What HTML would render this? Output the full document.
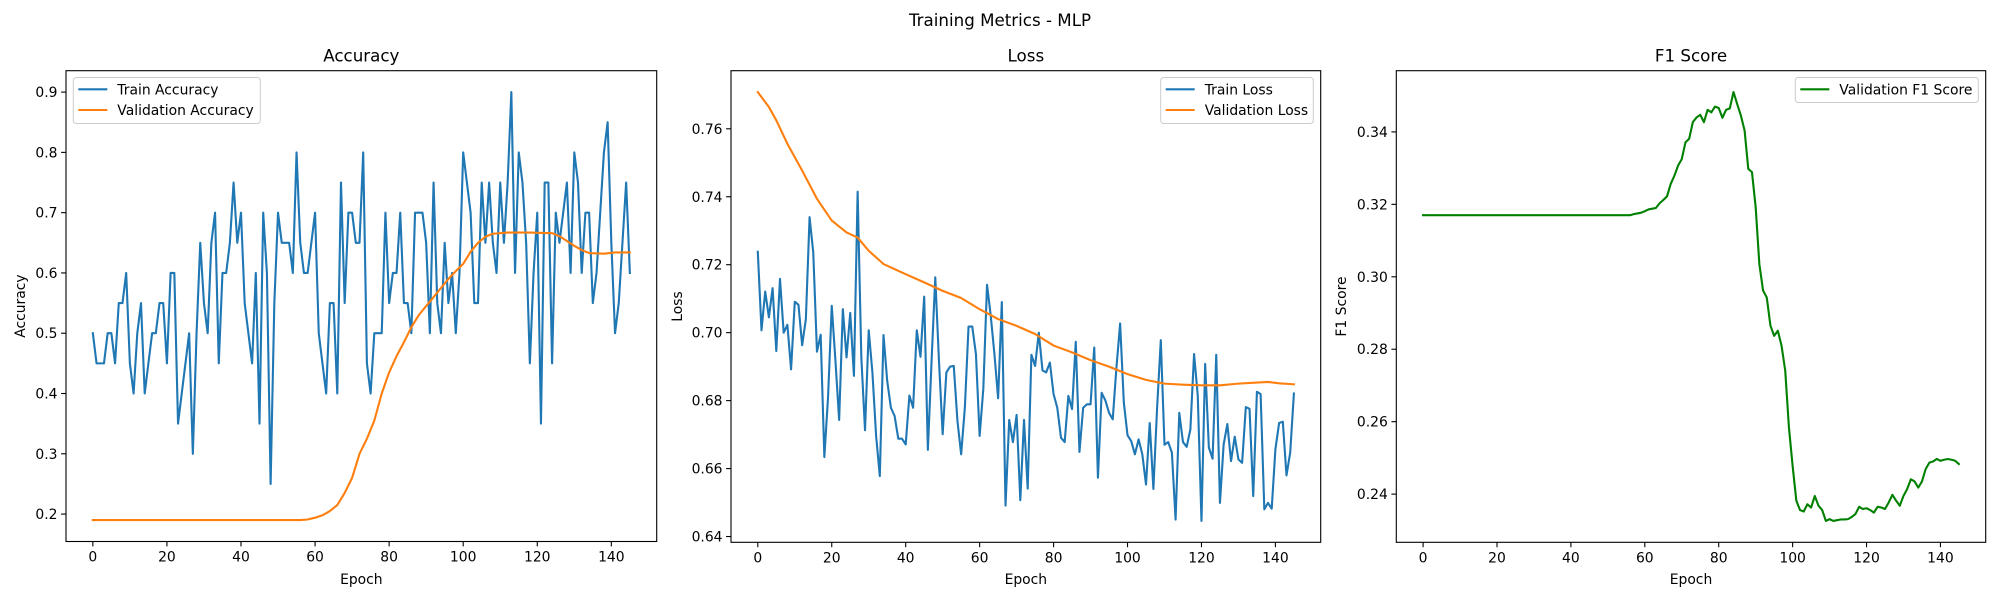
<!DOCTYPE html>
<html><head><meta charset="utf-8"><style>
html,body{margin:0;padding:0;background:#fff;}
svg{display:block;font-family:"DejaVu Sans","Liberation Sans",sans-serif;}
</style></head><body>
<svg id="fig" width="2000" height="600" viewBox="0 0 2000 600" xmlns="http://www.w3.org/2000/svg">
<rect width="2000" height="600" fill="#fff"/>
<text x="1000" y="26" font-size="16.7" text-anchor="middle" fill="#000">Training Metrics - MLP</text>
</svg>
<script>
// ---- Accuracy data ----
const epochs = Array.from({length:146},(_,i)=>i);
const trainAcc = [0.5,0.45,0.45,0.45,0.5,0.5,0.45,0.55,0.55,0.6,0.45,0.4,0.5,0.55,0.4,0.45,0.5,0.5,0.55,0.55,
0.45,0.6,0.6,0.35,0.4,0.45,0.5,0.3,0.5,0.65,0.55,0.5,0.65,0.7,0.45,0.6,0.6,0.65,0.75,0.65,
0.7,0.55,0.5,0.45,0.6,0.35,0.7,0.6,0.25,0.55,0.7,0.65,0.65,0.65,0.6,0.8,0.65,0.6,0.6,0.65,
0.7,0.5,0.45,0.4,0.55,0.55,0.4,0.75,0.55,0.7,0.7,0.65,0.65,0.8,0.45,0.4,0.5,0.5,0.5,0.7,
0.55,0.6,0.6,0.7,0.55,0.55,0.5,0.7,0.7,0.7,0.65,0.5,0.75,0.55,0.5,0.65,0.55,0.6,0.5,0.6,
0.8,0.75,0.7,0.55,0.55,0.75,0.65,0.75,0.65,0.6,0.75,0.65,0.75,0.9,0.6,0.8,0.75,0.65,0.45,0.6,
0.7,0.35,0.75,0.75,0.45,0.7,0.65,0.7,0.75,0.6,0.8,0.75,0.6,0.7,0.7,0.55,0.6,0.7,0.8,0.85,
0.65,0.5,0.55,0.65,0.75,0.6];
const valAccEpochs = [0,56,58,60,62,64,66,68,70,72,74,76,78,80,82,84,86,88,90,92,94,96,98,100,102,104,106,108,112,118,124,126,128,130,132,134,138,141,145];
const valAcc = [0.19,0.19,0.191,0.194,0.198,0.205,0.215,0.235,0.26,0.30,0.325,0.355,0.40,0.435,0.462,0.485,0.51,0.53,0.545,0.56,0.575,0.59,0.603,0.615,0.635,0.65,0.66,0.665,0.667,0.667,0.666,0.661,0.653,0.645,0.638,0.633,0.632,0.634,0.634];
const accTicks = [0.2,0.3,0.4,0.5,0.6,0.7,0.8,0.9];
// ---- Loss data ----
const trainLoss = [0.7238,0.7007,0.7121,0.7045,0.7131,0.6946,0.7158,0.70,0.7023,0.6892,
0.7091,0.7082,0.6963,0.704,0.734,0.7236,0.6944,0.6994,0.6634,0.681,
0.7079,0.6917,0.6743,0.7069,0.6927,0.7058,0.6873,0.7415,0.6927,0.6713,
0.7007,0.6883,0.6696,0.6578,0.6993,0.6858,0.6779,0.6755,0.6688,0.6688,
0.6671,0.6815,0.6779,0.7007,0.6929,0.7106,0.6655,0.6917,0.7163,0.6917,
0.6701,0.6883,0.69,0.6902,0.674,0.6642,0.6779,0.7018,0.7018,0.6937,
0.6696,0.6835,0.7141,0.705,0.6937,0.6807,0.709,0.6491,0.6743,0.6678,
0.6758,0.6507,0.6743,0.6541,0.6935,0.6902,0.70,0.6889,0.6883,0.6912,
0.6819,0.6779,0.6691,0.6678,0.6814,0.6775,0.6973,0.6649,0.6779,0.6789,
0.6789,0.6956,0.6573,0.6823,0.6801,0.6764,0.6745,0.6897,0.7027,0.6794,
0.6698,0.6681,0.6642,0.6686,0.6642,0.6553,0.6734,0.654,0.6779,0.6978,
0.667,0.6678,0.6647,0.645,0.6764,0.6678,0.6664,0.6715,0.6937,0.6814,
0.6446,0.6908,0.6662,0.6629,0.6935,0.6499,0.6671,0.6731,0.6622,0.6694,
0.6627,0.6617,0.6781,0.6776,0.6519,0.6826,0.6819,0.648,0.6499,0.6482,
0.6657,0.6734,0.6738,0.658,0.6647,0.6821];
const valLossEpochs = [0,3,5,8,12,16,20,24,27,30,34,40,45,50,55,60,65,70,75,80,85,90,95,100,105,110,115,120,125,130,135,138,141,145];
const valLoss = [0.7708,0.7664,0.7625,0.7556,0.7477,0.7394,0.733,0.7295,0.728,0.7241,0.7202,0.7172,0.7148,0.7123,0.7102,0.7069,0.704,0.702,0.6996,0.6962,0.6942,0.6919,0.69,0.6878,0.6861,0.685,0.6847,0.6845,0.6845,0.685,0.6853,0.6855,0.6851,0.6848];
const lossTicks = [0.64,0.66,0.68,0.70,0.72,0.74,0.76];
// ---- F1 data ----
const valF1 = [0.317,0.317,0.317,0.317,0.317,0.317,0.317,0.317,0.317,0.317,
0.317,0.317,0.317,0.317,0.317,0.317,0.317,0.317,0.317,0.317,
0.317,0.317,0.317,0.317,0.317,0.317,0.317,0.317,0.317,0.317,
0.317,0.317,0.317,0.317,0.317,0.317,0.317,0.317,0.317,0.317,
0.317,0.317,0.317,0.317,0.317,0.317,0.317,0.317,0.317,0.317,
0.317,0.317,0.317,0.317,0.317,0.317,0.317,0.3173,0.3175,0.3177,
0.3181,0.3186,0.3188,0.319,0.3203,0.3212,0.3222,0.3256,0.3279,0.3307,
0.3325,0.3371,0.3381,0.3427,0.344,0.3447,0.3427,0.3461,0.3454,0.347,
0.3466,0.3439,0.3461,0.3465,0.351,0.3477,0.3445,0.3404,0.3298,0.3289,
0.3192,0.3035,0.2962,0.2943,0.2865,0.2837,0.2851,0.281,0.2741,0.2584,
0.2478,0.2382,0.2356,0.2352,0.2372,0.2363,0.2395,0.2368,0.2356,0.2326,
0.2331,0.2326,0.2328,0.233,0.233,0.2331,0.2337,0.2345,0.2365,0.2359,
0.2361,0.2356,0.2349,0.2365,0.2363,0.2359,0.2377,0.2398,0.2382,0.2368,
0.2395,0.2414,0.2441,0.2435,0.2418,0.2435,0.2469,0.2487,0.249,0.2497,
0.2492,0.2495,0.2497,0.2495,0.2492,0.2483];
const f1Ticks = [0.24,0.26,0.28,0.30,0.32,0.34];
const xTicks = [0,20,40,60,80,100,120,140];

const NS='http://www.w3.org/2000/svg';
const svg=document.getElementById('fig');
function mk(tag,attrs,parent){const e=document.createElementNS(NS,tag);for(const k in attrs)e.setAttribute(k,attrs[k]);(parent||svg).appendChild(e);return e;}

function panel(o){
  const g=mk('g',{});
  
  
  const xmin=-7.25,xmax=152.25;
  const X=v=>o.L+(v-xmin)/(xmax-xmin)*(o.R-o.L);
  const Y=v=>o.B-(v-o.ymin)/(o.ymax-o.ymin)*(o.B-o.T);
  // ticks
  xTicks.forEach(t=>{
    const x=X(t);
    const tk=mk('line',{x1:x,x2:x,y1:o.B,y2:o.B+4.9,stroke:'#000','stroke-width':1.1},g);
    
    
    const tx=mk('text',{x:x,y:o.B+20,'font-size':13.9,'text-anchor':'middle',fill:'#000'},g);
    tx.textContent=t;
    
    
  });
  o.yt.forEach(t=>{
    const y=Y(t);
    const tk=mk('line',{x1:o.L-4.9,x2:o.L,y1:y,y2:y,stroke:'#000','stroke-width':1.1},g);
    
    
    const tx=mk('text',{x:o.L-8.5,y:y+5,'font-size':13.9,'text-anchor':'end',fill:'#000'},g);
    tx.textContent=t.toFixed(o.dec);
    
    
  });
  // series
  o.series.forEach(s=>{
    const pts=s.x.map((e,i)=>X(e).toFixed(2)+','+Y(s.y[i]).toFixed(2)).join(' ');
    const pl=mk('polyline',{points:pts,fill:'none',stroke:s.c,'stroke-width':2.1,'stroke-linejoin':'round','stroke-linecap':'square'},g);
    
    
  });
  const fr=mk('rect',{x:o.L,y:o.T,width:o.R-o.L,height:o.B-o.T,fill:'none',stroke:'#000','stroke-width':1.1},g);
  
  
  const ti=mk('text',{x:(o.L+o.R)/2,y:61.5,'font-size':16.7,'text-anchor':'middle',fill:'#000'},g);
  ti.textContent=o.title;
  
  
  const xl=mk('text',{x:(o.L+o.R)/2,y:584,'font-size':13.9,'text-anchor':'middle',fill:'#000'},g);
  xl.textContent='Epoch';
  
  
  const yl=mk('text',{x:0,y:0,'font-size':13.9,'text-anchor':'middle',fill:'#000',transform:`translate(${o.ylx},${(o.T+o.B)/2}) rotate(-90)`},g);
  yl.textContent=o.ylabel;
  
  
  // legend
  const lg=mk('g',{},g);
  
  
  mk('rect',{x:o.lg.x,y:77.5,width:o.lg.w,height:o.series.length*21+4,rx:3,fill:'#fff','fill-opacity':0.8,stroke:'#ccc','stroke-width':1},lg);
  o.series.forEach((s,i)=>{
    const cy=89.3+i*20.7;
    const ln=mk('line',{x1:o.lg.x+5,x2:o.lg.x+34,y1:cy,y2:cy,stroke:s.c,'stroke-width':2.1},lg);
    
    
    const t=mk('text',{x:o.lg.x+44,y:cy+5,'font-size':13.9,fill:'#000'},lg);
    t.textContent=s.label;
    
    
  });
}

panel({id:'accuracy',title:'Accuracy',ylabel:'Accuracy',L:66,R:656.7,T:70.7,B:541.5,ymin:0.1545,ymax:0.9355,yt:accTicks,dec:1,ylx:25,
  lg:{x:73.3,w:187},
  series:[{x:epochs,y:trainAcc,c:'#1f77b4',label:'Train Accuracy',name:'train-accuracy-line'},
          {x:valAccEpochs,y:valAcc,c:'#ff7f0e',label:'Validation Accuracy',name:'validation-accuracy-line'}]});
panel({id:'loss',title:'Loss',ylabel:'Loss',L:731,R:1320.7,T:70.7,B:542.3,ymin:0.6383,ymax:0.7771,yt:lossTicks,dec:2,ylx:682,
  lg:{x:1160.7,w:152.6},
  series:[{x:epochs,y:trainLoss,c:'#1f77b4',label:'Train Loss',name:'train-loss-line'},
          {x:valLossEpochs,y:valLoss,c:'#ff7f0e',label:'Validation Loss',name:'validation-loss-line'}]});
panel({id:'f1',title:'F1 Score',ylabel:'F1 Score',L:1396.3,R:1985.7,T:70.7,B:542.3,ymin:0.2267,ymax:0.3569,yt:f1Ticks,dec:2,ylx:1346,
  lg:{x:1795.3,w:183},
  series:[{x:epochs,y:valF1,c:'#008000',label:'Validation F1 Score',name:'validation-f1-line'}]});
</script>
</body></html>
